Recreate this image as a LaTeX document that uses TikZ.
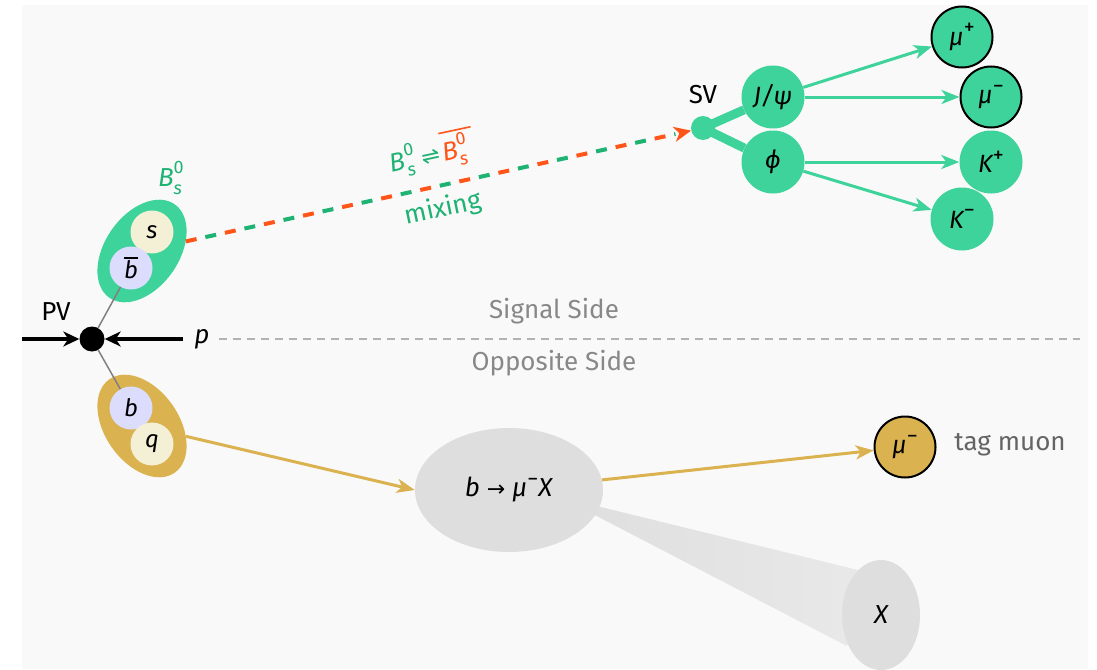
\documentclass[tikz,border=0pt]{standalone}
\usepackage{fontspec}
\setmainfont{Fira Sans}
\newfontfamily\djv{DejaVu Sans}
\usetikzlibrary{shapes.geometric,arrows.meta}
\definecolor{bg}{RGB}{249,249,249}
\definecolor{gfill}{RGB}{62,211,155}
\definecolor{glab}{RGB}{30,178,115}
\definecolor{mred}{RGB}{255,85,25}
\definecolor{gold}{RGB}{219,178,80}
\definecolor{lav}{RGB}{220,220,252}
\definecolor{beige}{RGB}{244,240,214}
\definecolor{egray}{RGB}{222,222,222}
\definecolor{sidegray}{RGB}{136,136,136}
\definecolor{taggray}{RGB}{100,100,100}
\newcommand{\ssz}{\fontsize{18}{18}\selectfont}
\newcommand{\subsup}[2]{\makebox[0pt][l]{\raisebox{0.5em}{\ssz #2}}\raisebox{-0.3em}{\ssz #1}}
\newcommand{\supr}[1]{\raisebox{0.42em}{\upshape\fontsize{22}{22}\selectfont #1}}
\newsavebox\obox
\newcommand{\ovl}[2][1.1em]{\sbox\obox{#2}\rlap{\rule[#1]{\wd\obox}{1.6pt}}\usebox\obox}
\begin{document}
\begin{tikzpicture}[x=1pt,y=-1pt,
  font=\fontsize{26}{30}\selectfont,
  quark/.style={circle,minimum size=43pt,inner sep=0pt,font=\fontsize{24}{28}\selectfont\itshape},
  had/.style={circle,fill=gfill,minimum size=63pt,inner sep=0pt,font=\fontsize{25}{28}\selectfont\itshape},
  outl/.style={draw=black,line width=2pt},
  garrow/.style={draw=gfill,line width=3pt,-{Stealth[length=18pt,width=14pt,inset=5pt]}},
  goldarrow/.style={draw=gold,line width=3pt,-{Stealth[length=18pt,width=14pt,inset=5pt]}},
  pvarrow/.style={draw=black,line width=3.2pt,-{Stealth[length=16pt,width=15pt,inset=5pt]}},
  qline/.style={draw=gray,line width=1.5pt},
  sideline/.style={draw=black!30,line width=1.5pt,dash pattern=on 8pt off 6pt},
  sidetext/.style={text=sidegray},
  blob/.style={draw=gfill,line width=9pt},
  mixr/.style={draw=mred,line width=4pt,dash pattern=on 11pt off 29pt},
  mixg/.style={draw=glab,line width=4pt,dash pattern=on 11pt off 29pt,dash phase=20pt}
]
\useasboundingbox (0,0) rectangle (1097,669);
\fill[bg] (22,5) rectangle (1088,669);

% side separation
\node[font=\fontsize{26}{30}\selectfont\itshape] (p) at (202,339) {p};
\coordinate (lin) at (22,339);
\coordinate (dend) at (1080,339);
\draw[sideline] (p.east) ++(6,0) -- (dend);
\node[sidetext] (sig) at (554,311) {Signal Side};
\node[sidetext] (opp) at (554,363) {Opposite Side};

% cone to X
\coordinate (c1) at (560,497);
\coordinate (c2) at (866,572);
\coordinate (c3) at (847,646);
\begin{scope}
\clip (c1) -- (c2) -- (c3) -- cycle;
\shade[left color=egray,right color=egray!60!bg] (555,490) rectangle (870,650);
\end{scope}
\node[ellipse,fill=egray,minimum width=78pt,minimum height=110pt,inner sep=0pt,font=\fontsize{26}{30}\selectfont\itshape] (xn) at (881,615) {X};
\node[ellipse,fill=egray,minimum width=188pt,minimum height=124pt,inner sep=0pt] (bmx) at (509,490)
  {\textit{b} {\djv\fontsize{22}{26}\selectfont →} \textit{μ}\supr{−}\textit{X}};

% mesons at PV
\node[ellipse,fill=gfill,minimum width=114pt,minimum height=74pt,inner sep=0pt,rotate=55] (bs) at (142,251) {};
\node[ellipse,fill=gold,minimum width=114pt,minimum height=74pt,inner sep=0pt,rotate=-55] (bo) at (142,426) {};
\node[quark,fill=beige] (s) at (152,232) {s};
\node[quark,fill=lav] (bbar) at (131,268) {\ovl[0.82em]{b}};
\node[quark,fill=lav] (b) at (131,408) {b};
\node[quark,fill=beige] (q) at (152,444) {q};
\node[text=glab] (bslab) at (170,178) {\textit{B}\subsup{\textit{s}}{0}};

% PV
\node[circle,fill=black,minimum size=25pt,inner sep=0pt] (pv) at (92,339) {};
\node (pvl) at (56,312) {PV};
\draw[qline] (pv) -- (bbar);
\draw[qline] (pv) -- (b);
\draw[pvarrow] (lin) -- (pv);
\draw[pvarrow] (p.west) ++(-8,0) -- (pv);

% SV and decay
\node[circle,fill=gfill,minimum size=24pt,inner sep=0pt] (sv) at (703,128) {};
\node (svl) at (703,95) {SV};
\node[had] (jpsi) at (773,97) {J/ψ};
\node[had] (phi) at (773,162) {ϕ};
\draw[blob] (sv.center) -- (jpsi);
\draw[blob] (sv.center) -- (phi);
\node[had,outl,minimum size=61pt] (mup) at (962,37) {μ\supr{+}};
\node[had,outl,minimum size=61pt] (mum) at (991,97) {μ\supr{−}};
\node[had] (kp) at (991,162) {K\supr{+}};
\node[had] (km) at (962,219) {K\supr{−}};
\draw[garrow] (jpsi) -- (mup);
\draw[garrow] (jpsi) -- (mum);
\draw[garrow] (phi) -- (kp);
\draw[garrow] (phi) -- (km);

% mixing
\draw[mixg,shorten >=16pt] (bs) -- (sv);
\draw[mixr,-{Stealth[length=17pt,width=15pt,inset=5pt]}] (bs) -- (sv);
\node[rotate=12] (mixtop) at (432,153)
  {{\color{glab}\textit{B}\subsup{\textit{s}}{0}\hspace{8pt}{\djv\fontsize{22}{26}\selectfont ⇌}}\hspace{3pt}{\color{mred}\ovl[1.05em]{\textit{B}\subsup{\textit{s}}{0}\hspace{9pt}}}};
\node[rotate=12,text=glab] (mixbot) at (443,209) {mixing};

% tag side
\node[circle,fill=gold,outl,minimum size=61pt,inner sep=0pt,font=\fontsize{25}{28}\selectfont\itshape] (tag) at (905,447) {μ\supr{−}};
\node[text=taggray] (tagl) at (1010,445) {tag muon};
\draw[goldarrow] (bo) -- (bmx.west);
\draw[goldarrow] (bmx) -- (tag);
\end{tikzpicture}
\end{document}
